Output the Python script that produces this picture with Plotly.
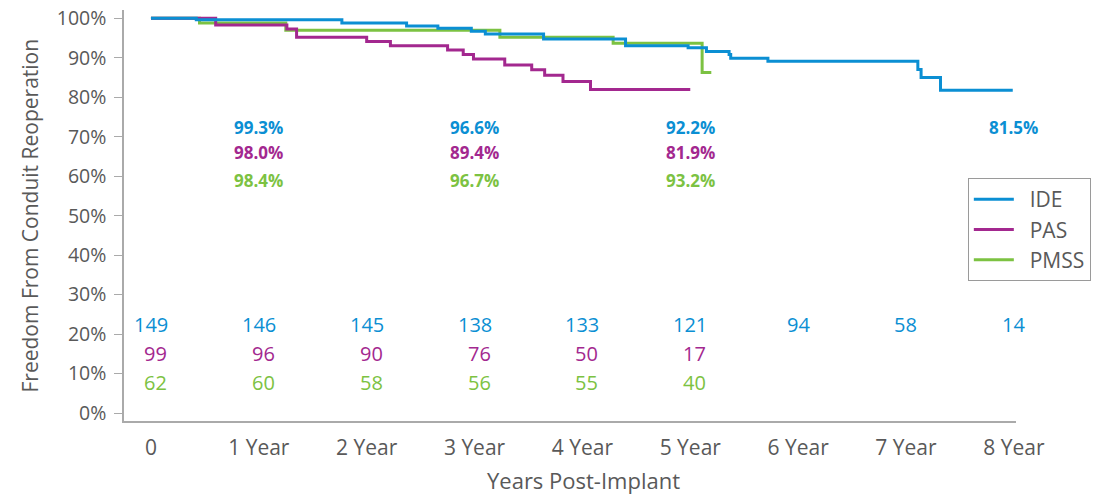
import plotly.graph_objects as go

# ---- data ----
ide_t = [0, 0.42, 1.77, 2.37, 2.66, 2.97, 3.10, 3.64, 4.40, 4.98, 5.15, 5.36, 5.375, 5.72, 7.11, 7.14, 7.32, 7.99]
ide_s = [100, 99.6, 98.8, 98.05, 97.45, 96.7, 96.0, 94.75, 93.05, 92.55, 91.6, 90.8, 89.9, 89.1, 87.0, 85.0, 81.8, 81.8]

pas_t = [0, 0.60, 1.26, 1.35, 2.00, 2.22, 2.75, 2.895, 2.99, 3.28, 3.53, 3.65, 3.82, 4.075, 5.00]
pas_s = [100, 98.3, 97.3, 95.2, 94.15, 93.05, 91.95, 90.8, 89.7, 88.2, 86.95, 85.6, 84.0, 81.95, 81.95]

pmss_t = [0, 0.45, 1.25, 3.235, 4.285, 5.11, 5.195]
pmss_s = [100, 98.8, 97.0, 95.2, 93.65, 86.3, 86.3]

year_ticks = [0, 1, 2, 3, 4, 5, 6, 7, 8]
year_labels = ["0", "1 Year", "2 Year", "3 Year", "4 Year", "5 Year", "6 Year", "7 Year", "8 Year"]
pct_ticks = [0, 10, 20, 30, 40, 50, 60, 70, 80, 90, 100]
pct_labels = ["0%", "10%", "20%", "30%", "40%", "50%", "60%", "70%", "80%", "90%", "100%"]

ide_risk_years = [0, 1, 2, 3, 4, 5, 6, 7, 8]
ide_risk = [149, 146, 145, 138, 133, 121, 94, 58, 14]
pas_risk_years = [0, 1, 2, 3, 4, 5]
pas_risk = [99, 96, 90, 76, 50, 17]
pmss_risk_years = [0, 1, 2, 3, 4, 5]
pmss_risk = [62, 60, 58, 56, 55, 40]

ide_pct_years = [1, 3, 5, 8]
ide_pct = [99.3, 96.6, 92.2, 81.5]
pas_pct_years = [1, 3, 5]
pas_pct = [98.0, 89.4, 81.9]
pmss_pct_years = [1, 3, 5]
pmss_pct = [98.4, 96.7, 93.2]

# ---- style ----
C_IDE = "#0b8fd3"
C_PAS = "#a3288f"
C_PMSS = "#7cc242"
GRAY = "#595959"
FONT = "Open Sans"
PAD = "\u00a0\u00a0"

fig = go.Figure()
fig.add_trace(go.Scatter(x=pmss_t, y=pmss_s, mode="lines", line=dict(color=C_PMSS, width=3, shape="hv"),
                         name=PAD + "PMSS", legendrank=3, legendgroup="c"))
fig.add_trace(go.Scatter(x=pas_t, y=pas_s, mode="lines", line=dict(color=C_PAS, width=3, shape="hv"),
                         name=PAD + "PAS", legendrank=2, legendgroup="b"))
fig.add_trace(go.Scatter(x=ide_t, y=ide_s, mode="lines", line=dict(color=C_IDE, width=3, shape="hv"),
                         name=PAD + "IDE", legendrank=1, legendgroup="a"))

ann = []
risk_rows = [(ide_risk_years, ide_risk, C_IDE, 22.4), (pas_risk_years, pas_risk, C_PAS, 15.0),
             (pmss_risk_years, pmss_risk, C_PMSS, 7.7)]
for i, (yrs, vals, col, yy) in enumerate(risk_rows):
    for x, v in zip(yrs, vals):
        if i == 0:
            ann.append(dict(x=x, y=yy, text=str(v), showarrow=False, xanchor="center", yanchor="middle",
                            font=dict(family=FONT, size=20, color=col)))
        else:
            ann.append(dict(x=x, y=yy, text=str(v), showarrow=False, xanchor="right", yanchor="middle",
                            xshift=18, font=dict(family=FONT, size=20, color=col)))

pct_rows = [(ide_pct_years, ide_pct, C_IDE, 72.4), (pas_pct_years, pas_pct, C_PAS, 66.1),
            (pmss_pct_years, pmss_pct, C_PMSS, 59.0)]
for yrs, vals, col, yy in pct_rows:
    for x, v in zip(yrs, vals):
        ann.append(dict(x=x, y=yy, text="<b>%.1f%%</b>" % v, showarrow=False, xanchor="center", yanchor="middle",
                        font=dict(family=FONT, size=17, color=col)))

# axis titles
ann.append(dict(xref="paper", yref="paper", x=0.5155, y=-0.1436, text="Years Post-Implant", showarrow=False,
                xanchor="center", yanchor="middle", font=dict(family=FONT, size=22, color=GRAY)))
ann.append(dict(xref="paper", yref="paper", x=-0.1054, y=0.5, text="Freedom From Conduit Reoperation",
                showarrow=False, textangle=-90, xanchor="center", yanchor="middle",
                font=dict(family=FONT, size=21, color=GRAY)))

fig.update_layout(
    width=1096, height=495,
    margin=dict(l=124, r=80, t=10, b=74, autoexpand=False),
    paper_bgcolor="white", plot_bgcolor="white",
    font=dict(family=FONT, color=GRAY),
    annotations=ann,
    showlegend=True,
    legend=dict(x=0.946, y=0.591, xanchor="left", yanchor="top", bordercolor="#9a9a9a", borderwidth=1,
                font=dict(family=FONT, size=21, color=GRAY), tracegroupgap=0, bgcolor="white",
                itemwidth=40),
    xaxis=dict(range=[-0.25, 8.02], tickvals=year_ticks, ticktext=year_labels, showgrid=False, zeroline=False,
               showline=True, linecolor="#aaaaaa", linewidth=1.5, ticks="outside", ticklen=7,
               tickcolor="rgba(0,0,0,0)", tickfont=dict(family=FONT, size=21, color=GRAY), automargin=False),
    yaxis=dict(range=[-2.0, 102.1], tickvals=pct_ticks, ticktext=pct_labels, showgrid=False,
               zeroline=False, showline=True, linecolor="#aaaaaa", linewidth=1.5, ticks="outside", ticklen=8,
               tickcolor="#aaaaaa", tickfont=dict(family=FONT, size=19.5, color=GRAY), automargin=False,
               ticklabelstandoff=4, ticklabeloverflow="allow"),
)

# remove the default page margin so the figure fills the window exactly
fig.write_html("out.html", config={"displayModeBar": False},
               post_script="document.body.style.margin='0';")
